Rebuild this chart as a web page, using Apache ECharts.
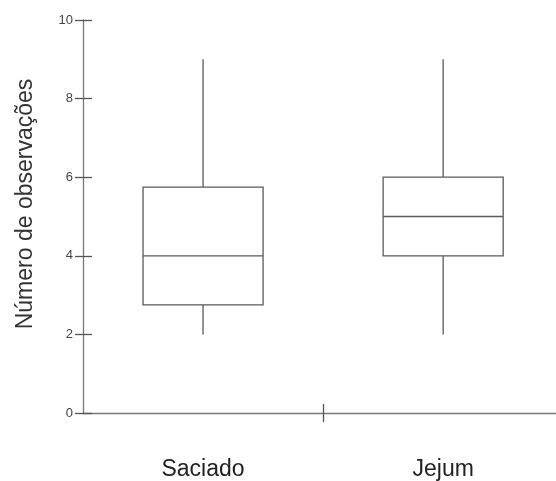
<!DOCTYPE html>
<html>
<head>
<meta charset="utf-8">
<script src="https://cdn.jsdelivr.net/npm/echarts@6/dist/echarts.min.js"></script>
<style>
  html, body { margin: 0; padding: 0; background: #fff; }
  #chart { width: 556px; height: 481px; }
</style>
</head>
<body>
<div id="chart"></div>
<script>
// categorias e estatísticas de cada grupo
var categories = ["Saciado", "Jejum"];
var minValues = [2, 2];
var q1Values = [2.75, 4];
var medianValues = [4, 5];
var q3Values = [5.75, 6];
var maxValues = [9, 9];
var yTicks = [0, 2, 4, 6, 8, 10];
var xTicks = [0.5];          // divisória entre os grupos
var xLabelPos = [0, 1];      // posição de cada categoria

var boxData = categories.map(function (c, i) {
  return [i, minValues[i], q1Values[i], medianValues[i], q3Values[i], maxValues[i]];
});

var lineColor = "#5a5a5a";
var axisColor = "#777";
var xMin = -0.5, xMax = 1.47;

var myChart = echarts.init(document.getElementById("chart"));

var option = {
  animation: false,
  textStyle: { fontFamily: "Liberation Sans, Arial, sans-serif" },
  grid: { left: 83, top: 20, right: 0, bottom: 68, containLabel: false },
  xAxis: [
    {
      type: "value",
      min: xMin,
      max: xMax,
      splitLine: { show: false },
      axisLine: { show: true, onZero: false, lineStyle: { color: axisColor, width: 1.3 } },
      axisTick: { show: true, customValues: xTicks, length: 9, lineStyle: { color: "#555", width: 1.3 } },
      axisLabel: {
        customValues: xLabelPos,
        color: "#222",
        fontSize: 23,
        margin: 45,
        formatter: function (v) { return categories[Math.round(v)]; }
      }
    },
    {
      type: "value",
      min: xMin,
      max: xMax,
      position: "bottom",
      splitLine: { show: false },
      axisLine: { show: false, onZero: false },
      axisTick: { show: true, inside: true, customValues: xTicks, length: 9, lineStyle: { color: "#555", width: 1.3 } },
      axisLabel: { show: false }
    }
  ],
  yAxis: [
    {
      type: "value",
      min: yTicks[0],
      max: yTicks[yTicks.length - 1],
      interval: 2,
      name: "Número de observações",
      nameLocation: "middle",
      nameGap: 46,
      nameTextStyle: { color: "#333", fontSize: 23, padding: [0, 0, 0, 25] },
      axisLine: { show: true, onZero: false, lineStyle: { color: axisColor, width: 1.3 } },
      axisTick: { show: true, length: 8, lineStyle: { color: "#555", width: 1.3 } },
      axisLabel: { color: "#444", fontSize: 13, margin: 10 },
      splitLine: { show: false }
    },
    {
      type: "value",
      min: yTicks[0],
      max: yTicks[yTicks.length - 1],
      interval: 2,
      position: "left",
      axisLine: { show: false, onZero: false },
      axisTick: { show: true, inside: true, length: 9, lineStyle: { color: "#555", width: 1.3 } },
      axisLabel: { show: false },
      splitLine: { show: false }
    }
  ],
  series: [
    {
      type: "custom",
      data: boxData,
      encode: { x: 0, y: [1, 2, 3, 4, 5] },
      renderItem: function (params, api) {
        var idx = api.value(0);
        var pMin = api.coord([idx, api.value(1)]);
        var pQ1 = api.coord([idx, api.value(2)]);
        var pMed = api.coord([idx, api.value(3)]);
        var pQ3 = api.coord([idx, api.value(4)]);
        var pMax = api.coord([idx, api.value(5)]);
        var half = api.size([1, 0])[0] * 0.25;
        var x = pMed[0];
        var st = { stroke: lineColor, lineWidth: 1.3, fill: null };
        return {
          type: "group",
          children: [
            { type: "line", shape: { x1: x, y1: pMax[1], x2: x, y2: pQ3[1] }, style: st },
            { type: "line", shape: { x1: x, y1: pQ1[1], x2: x, y2: pMin[1] }, style: st },
            {
              type: "rect",
              shape: { x: x - half, y: pQ3[1], width: half * 2, height: pQ1[1] - pQ3[1] },
              style: { stroke: lineColor, lineWidth: 1.3, fill: "#fff" }
            },
            { type: "line", shape: { x1: x - half, y1: pMed[1], x2: x + half, y2: pMed[1] }, style: st }
          ]
        };
      }
    }
  ]
};

myChart.setOption(option);
window.addEventListener("resize", function () {
  myChart.resize();
});
</script>
</body>
</html>
